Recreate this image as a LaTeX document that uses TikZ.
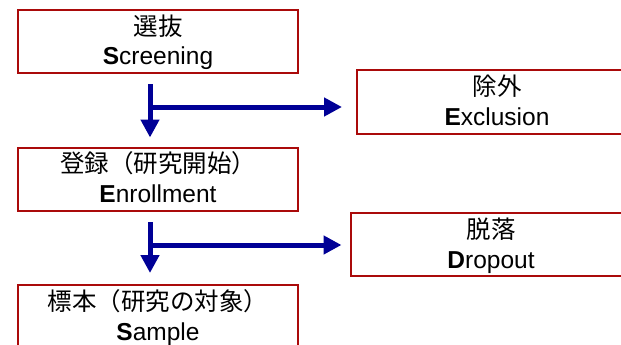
\documentclass[tikz,border=0pt]{standalone}
\usepackage{fontspec}
\setmainfont{Liberation Sans}
\newfontfamily\jpfont{Noto Sans CJK JP}
\usetikzlibrary{arrows.meta,calc}
\definecolor{boxred}{RGB}{170,10,10}
\definecolor{arrblue}{RGB}{0,0,150}
\tikzset{
  box/.style={draw=boxred, line width=2pt, minimum width=280pt, minimum height=63pt, inner sep=0pt, outer sep=0pt},
  jp/.style={anchor=base, inner sep=0pt, font=\jpfont\fontsize{24.5}{30}\selectfont},
  en/.style={anchor=base, inner sep=0pt, font=\fontsize{24.5}{30}\selectfont},
  arr/.style={draw=arrblue, line width=5pt, -{Triangle[width=18pt,length=18pt]}}
}
\begin{document}
\begin{tikzpicture}[x=1pt,y=-1pt]
\useasboundingbox (0,0) rectangle (621,345);
\clip (0,0) rectangle (621,345);
% boxes
\node[box] (scr) at (158,41.5) {};
\node[box] (enr) at (158,179) {};
\node[box] (smp) at (158,316.5) {};
\node[box] (exc) at (497,102) {};
\node[box] (drp) at (491,244.5) {};
% texts
\node[jp] (scrj) at ($(scr.north)+(0,25.3)$) {選抜};
\node[en] (scre) at ($(scr.north)+(0,55)$) {\textbf{S}creening};
\node[jp] (enrj) at ($(enr.north)+(0,25.3)$) {登録（研究開始）};
\node[en] (enre) at ($(enr.north)+(0,55)$) {\textbf{E}nrollment};
\node[jp] (smpj) at ($(smp.north)+(0,25.3)$) {標本（研究の対象）};
\node[en] (smpe) at ($(smp.north)+(0,55)$) {\textbf{S}ample};
\node[jp] (excj) at ($(exc.north)+(0,25.3)$) {除外};
\node[en] (exce) at ($(exc.north)+(0,55)$) {\textbf{E}xclusion};
\node[jp] (drpj) at ($(drp.north)+(0,25.3)$) {脱落};
\node[en] (drpe) at ($(drp.north)+(0,55)$) {\textbf{D}ropout};
% arrows
\draw[arr, shorten <=11pt, shorten >=10pt] ($(scr.south)+(-8,0)$) -- ($(enr.north)+(-8,0)$);
\coordinate (j1) at (150,107);
\draw[arr, shorten >=15pt] (j1) -- (j1 -| exc.west);
\draw[arr, shorten <=11.5pt, shorten >=12pt] ($(enr.south)+(-8,0)$) -- ($(smp.north)+(-8,0)$);
\coordinate (j2) at (150,245);
\draw[arr, shorten >=9.5pt] (j2) -- (j2 -| drp.west);
\end{tikzpicture}
\end{document}
